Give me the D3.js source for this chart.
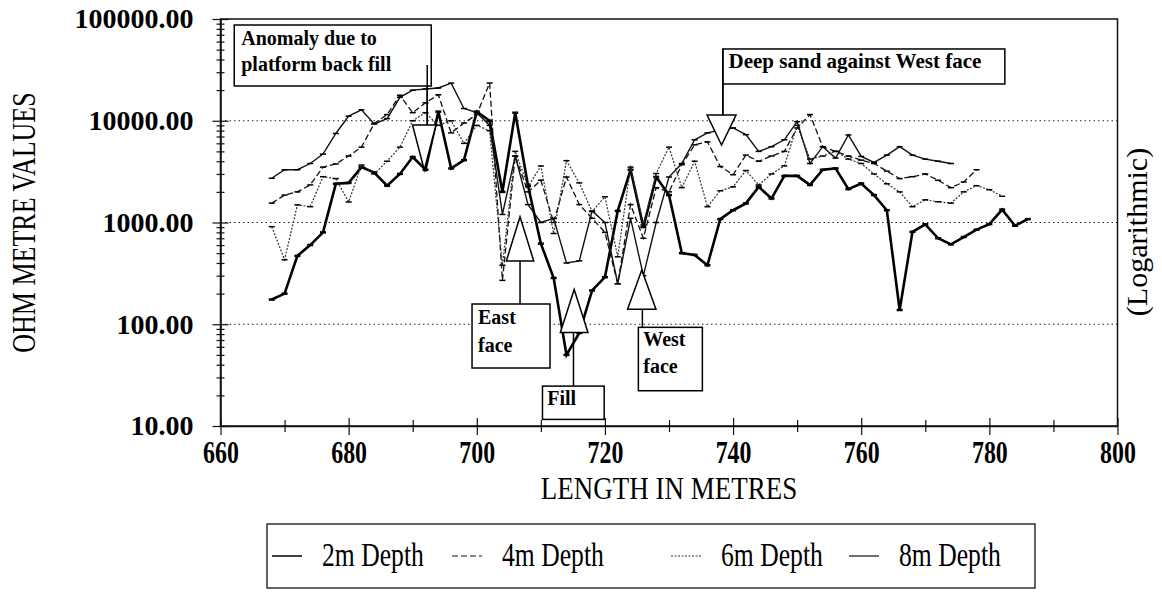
<!DOCTYPE html>
<html>
<head>
<meta charset="utf-8">
<script src="https://cdn.jsdelivr.net/npm/d3@7/dist/d3.min.js"></script>
<style>
  body { margin: 0; background: #fff; }
  svg { display: block; }
  text { font-family: "Liberation Serif", "Times New Roman", serif; fill: #000; }
</style>
</head>
<body>
<script>
// resistivity readings (ohm metres, log scale)
const depthNames = ["2m Depth", "4m Depth", "6m Depth", "8m Depth"];

const metres2 = [668,670,672,674,676,678,680,682,684,686,688,690,692,694,696,698,700,702,704,706,
  708,710,712,714,716,718,720,722,724,726,728,730,732,734,736,738,740,742,744,746,
  748,750,752,754,756,758,760,762,764,766,768,770,772,774,776,778,780,782,784,786];
const ohm2 = [175,200,470,600,800,2400,2450,3500,3100,2300,3000,4400,3300,12300,3400,4100,12300,10000,2000,12000,
  2300,620,285,50,82,215,290,1300,3300,900,2800,1860,500,480,380,1080,1320,1540,2240,1720,
  2870,2870,2340,3300,3400,2130,2420,1860,1320,138,810,960,700,610,720,850,965,1340,930,1080];

const metres4 = metres2.slice(0, 56);
const ohm4 = [1550,1860,2000,2340,3500,3760,4500,5500,9400,11500,17800,12000,15000,18000,7600,9500,11500,23500,270,4500,
  2000,2600,1000,2800,1500,1100,800,250,1500,700,2200,2000,3700,5800,6200,3550,2950,4600,4000,4500,
  5000,8500,11500,5560,5000,4500,4100,3800,3200,2700,2820,3000,2600,2200,2500,3300];

const metres6 = metres2.slice(0, 58);
const ohm6 = [910,430,1490,1430,2820,2700,1590,3670,3000,4000,5500,10000,12000,9000,10000,6000,9000,8000,380,5000,
  2250,3590,780,4050,2450,1280,1790,460,3500,945,3030,5500,2200,4000,1430,2050,2240,3240,2340,3000,
  3600,9000,4200,4500,5000,4200,3800,3000,2400,2000,1430,1670,1600,1550,2000,2300,2100,1810];

const metres8 = metres2.slice(0, 54);
const ohm8 = [2720,3300,3300,3800,4700,7500,11100,12800,9300,10500,17000,20000,20500,21000,23400,13200,12000,9000,1200,4500,
  1500,1000,1100,400,420,1300,1000,250,1100,300,1000,2800,3800,6500,7600,8100,8500,7300,5000,5560,
  6500,9800,3800,5560,4300,7250,4460,3900,4600,5560,4600,4200,4000,3800];

const yMajor = [10, 100, 1000, 10000, 100000];
const xMajor = [660, 680, 700, 720, 740, 760, 780, 800];

// callouts: tip of the arrow in data units
const notes = [
  {lines: ["Anomaly due to", "platform back fill"], at: [691.8, 3280], dir: "down"},
  {lines: ["Deep sand against West face"], at: [738.2, 5780], dir: "down"},
  {lines: ["East", "face"], at: [706.75, 1140], dir: "up"},
  {lines: ["Fill"], at: [715.2, 220], dir: "up"},
  {lines: ["West", "face"], at: [725.75, 341], dir: "up"}
];

const width = 1162, height = 613;
const margin = {top: 19, right: 44.5, bottom: 187, left: 220.5};

const svg = d3.select("body").append("svg")
  .attr("width", width)
  .attr("height", height);

const x = d3.scaleLinear().domain([660, 800]).range([margin.left, width - margin.right]);
const y = d3.scaleLog().domain([10, 100000]).range([height - margin.bottom, margin.top]);

// dotted grid at the inner decades
svg.append("g").selectAll("line")
  .data(yMajor.slice(1, -1))
  .join("line")
  .attr("x1", x(660)).attr("x2", x(800))
  .attr("y1", d => y(d)).attr("y2", d => y(d))
  .attr("stroke", "#222").attr("stroke-width", 1)
  .attr("stroke-dasharray", "1.5,3");

// frame
svg.append("rect")
  .attr("x", x(660)).attr("y", y(100000))
  .attr("width", x(800) - x(660)).attr("height", y(10) - y(100000))
  .attr("fill", "none").attr("stroke", "#111").attr("stroke-width", 1.5);

// y axis, log minor ticks crossing the line
const yTicks = [];
yMajor.slice(0, -1).forEach(d => { for (let k = 1; k < 10; k++) yTicks.push(d * k); });
yTicks.push(100000);
const yAxis = svg.append("g")
  .attr("transform", `translate(${x(660)},0)`)
  .call(d3.axisLeft(y).tickValues(yTicks).tickSize(0).tickPadding(27)
    .tickFormat(d => yMajor.includes(d) ? d3.format(".2f")(d) : ""));
yAxis.select(".domain").attr("stroke", "#111").attr("stroke-width", 1.5);
yAxis.selectAll(".tick line")
  .attr("x1", d => yMajor.includes(d) ? -8 : -4)
  .attr("x2", d => yMajor.includes(d) ? 8 : 4)
  .attr("stroke", "#111").attr("stroke-width", 1.2);
yAxis.selectAll(".tick text")
  .style("font-size", "28px").style("font-weight", "bold")
  .attr("font-family", null);

// x axis
const xAxis = svg.append("g")
  .attr("transform", `translate(0,${y(10)})`)
  .call(d3.axisBottom(x).ticks(14).tickSize(0).tickPadding(13)
    .tickFormat(d => xMajor.includes(d) ? d : ""));
xAxis.select(".domain").attr("stroke", "#111").attr("stroke-width", 1.5);
xAxis.selectAll(".tick line")
  .attr("y1", d => xMajor.includes(d) ? -8 : -6)
  .attr("y2", d => xMajor.includes(d) ? 9 : 6)
  .attr("stroke", "#111").attr("stroke-width", 1.2);
xAxis.selectAll(".tick text")
  .style("font-size", "26px").style("font-weight", "bold")
  .attr("font-family", null)
  .attr("transform", "scale(0.92,1.18)");

// axis titles
svg.append("text")
  .attr("transform", `translate(35,${(y(10) + y(100000)) / 2}) rotate(-90) scale(1,1.27)`)
  .attr("text-anchor", "middle")
  .style("font-size", "26px")
  .text("OHM METRE VALUES");

svg.append("text")
  .attr("transform", `translate(${x(730)},499) scale(1,1.2)`)
  .attr("text-anchor", "middle")
  .style("font-size", "27px")
  .text("LENGTH IN METRES");

svg.append("text")
  .attr("transform", `translate(1147,232) rotate(-90)`)
  .attr("text-anchor", "middle")
  .style("font-size", "30px")
  .text("(Logarithmic)");

// series
const series = [
  {name: depthNames[0], xs: metres2, vs: ohm2, width: 2.6, dash: null, color: "#000"},
  {name: depthNames[1], xs: metres4, vs: ohm4, width: 1.3, dash: "6,3", color: "#111"},
  {name: depthNames[2], xs: metres6, vs: ohm6, width: 1.2, dash: "2,1.5", color: "#333"},
  {name: depthNames[3], xs: metres8, vs: ohm8, width: 1.4, dash: null, color: "#111"}
];

const line = d3.line().x(d => x(d[0])).y(d => y(d[1]));

const plot = svg.append("g");
series.forEach(s => {
  const pts = s.xs.map((m, i) => [m, s.vs[i]]);
  plot.append("path")
    .datum(pts)
    .attr("fill", "none")
    .attr("stroke", s.color)
    .attr("stroke-width", s.width)
    .attr("stroke-dasharray", s.dash)
    .attr("stroke-linejoin", "miter")
    .attr("d", line);
  plot.append("g").selectAll("line")
    .data(pts)
    .join("line")
    .attr("x1", d => x(d[0]) - 3).attr("x2", d => x(d[0]) + 3)
    .attr("y1", d => y(d[1])).attr("y2", d => y(d[1]))
    .attr("stroke", "#000").attr("stroke-width", s.width > 2 ? 2.5 : 1.5);
});

// callout boxes: layout in pixels around the arrow tip
const layout = [
  {box: [-190, -145, 197, 61], base: -45, half: 11.7, stem: [3, -105], text: [-183, -125, 26], size: 20},
  {box: [1.3, -96, 282, 35], base: -30, half: 14.5, stem: [1.3, -96], text: [7, -77, 0], size: 21},
  {box: [-48, 87.3, 78, 64], base: 44.3, half: 13.7, stem: [0, 87.3], text: [-42, 107, 28], size: 20},
  {box: [-31.7, 96.7, 61.7, 33.3], base: 43, half: 13.8, stem: [-0.7, 96.7], text: [-27, 116, 0], size: 20},
  {box: [-3.4, 57.3, 64, 63.4], base: 39.3, half: 14.2, stem: [0.6, 57.3], text: [1.5, 76, 27], size: 20}
];

const callouts = svg.append("g");
notes.forEach((n, i) => {
  const L = layout[i];
  const tx = x(n.at[0]), ty = y(n.at[1]);
  const g = callouts.append("g").attr("transform", `translate(${tx},${ty})`);
  g.append("line")
    .attr("x1", L.stem[0]).attr("x2", L.stem[0])
    .attr("y1", L.stem[1]).attr("y2", L.base)
    .attr("stroke", "#000").attr("stroke-width", 1.5);
  g.append("rect")
    .attr("x", L.box[0]).attr("y", L.box[1])
    .attr("width", L.box[2]).attr("height", L.box[3])
    .attr("fill", "#fff").attr("stroke", "#000").attr("stroke-width", 1.5);
  g.append("path")
    .attr("d", `M0,0 L${-L.half},${L.base} L${L.half},${L.base} Z`)
    .attr("fill", "#fff").attr("stroke", "#000").attr("stroke-width", 1.5);
  if (i === 0 || i === 1) {
    // stem stays visible across the box
    g.append("line")
      .attr("x1", L.stem[0]).attr("x2", L.stem[0])
      .attr("y1", i === 0 ? L.stem[1] : L.box[1]).attr("y2", L.base)
      .attr("stroke", "#000").attr("stroke-width", 1.5);
  }
  n.lines.forEach((t, j) => {
    g.append("text")
      .attr("x", L.text[0]).attr("y", L.text[1] + j * L.text[2])
      .style("font-size", L.size + "px").style("font-weight", "bold")
      .text(t);
  });
});

// legend
const legend = svg.append("g");
legend.append("rect")
  .attr("x", 267).attr("y", 524).attr("width", 768).attr("height", 64)
  .attr("fill", "#fff").attr("stroke", "#111").attr("stroke-width", 1.3);
const legendX = [270, 450, 669, 847];
series.forEach((s, i) => {
  const lx = legendX[i];
  legend.append("line")
    .attr("x1", lx + 2).attr("x2", lx + 32)
    .attr("y1", 556).attr("y2", 556)
    .attr("stroke", s.color).attr("stroke-width", i === 0 ? 1.5 : 1.2)
    .attr("stroke-dasharray", s.dash);
  legend.append("text")
    .attr("transform", `translate(${lx + 52},566) scale(0.95,1.25)`)
    .style("font-size", "27px")
    .text(s.name);
});
</script>
</body>
</html>
